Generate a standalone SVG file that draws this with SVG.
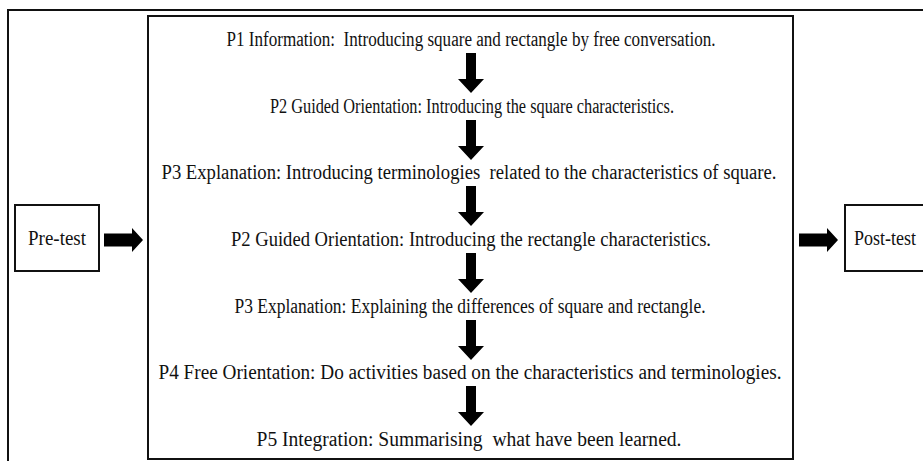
<svg xmlns="http://www.w3.org/2000/svg" width="923" height="461" viewBox="0 0 923 461">
<style>
text{font-family:"Liberation Serif","DejaVu Serif","Times New Roman",serif;font-size:20px;fill:#111}
.box{fill:#fff;stroke:#111;stroke-width:2}
.arr{fill:#000}
</style>
<defs>
<path id="down" d="M-5,0 H5 V26 H13 L0,40 L-13,26 H-5 Z"/>
<path id="right" d="M0,-6.5 H28 V-12 L39,0 L28,12 V6.5 H0 Z"/>
</defs>
<rect width="923" height="461" fill="#fff"/>
<g id="frame"><rect class="box" x="8" y="10" width="930" height="470"/></g>
<g id="main">
<rect class="box" x="148" y="16" width="645" height="443" stroke-width="2.5"/>
<text x="471" y="46" text-anchor="middle" textLength="489" lengthAdjust="spacingAndGlyphs" xml:space="preserve">P1 Information:  Introducing square and rectangle by free conversation.</text>
<text x="472" y="113" text-anchor="middle" textLength="404" lengthAdjust="spacingAndGlyphs">P2 Guided Orientation: Introducing the square characteristics.</text>
<text x="469" y="179" text-anchor="middle" textLength="615" lengthAdjust="spacingAndGlyphs" xml:space="preserve">P3 Explanation: Introducing terminologies  related to the characteristics of square.</text>
<text x="471" y="246" text-anchor="middle" textLength="480" lengthAdjust="spacingAndGlyphs">P2 Guided Orientation: Introducing the rectangle characteristics.</text>
<text x="470" y="313" text-anchor="middle" textLength="471" lengthAdjust="spacingAndGlyphs">P3 Explanation: Explaining the differences of square and rectangle.</text>
<text x="470" y="379" text-anchor="middle" textLength="623" lengthAdjust="spacingAndGlyphs">P4 Free Orientation: Do activities based on the characteristics and terminologies.</text>
<text x="469" y="446" text-anchor="middle" textLength="425" lengthAdjust="spacingAndGlyphs" xml:space="preserve">P5 Integration: Summarising  what have been learned.</text>
</g>
<g id="pretest">
<rect class="box" x="15" y="205" width="84" height="66"/>
<text x="57" y="245" text-anchor="middle" textLength="58" lengthAdjust="spacingAndGlyphs">Pre-test</text>
</g>
<g id="posttest">
<rect class="box" x="845" y="205" width="90" height="66"/>
<text x="854" y="245" textLength="62" lengthAdjust="spacingAndGlyphs">Post-test</text>
</g>
<g id="connectors" class="arr">
<use href="#down" x="471" y="53"/>
<use href="#down" x="471" y="120"/>
<use href="#down" x="471" y="186"/>
<use href="#down" x="471" y="253"/>
<use href="#down" x="471" y="320"/>
<use href="#down" x="471" y="386"/>
<use href="#right" x="104" y="240"/>
<use href="#right" x="799" y="240"/>
</g>
</svg>
